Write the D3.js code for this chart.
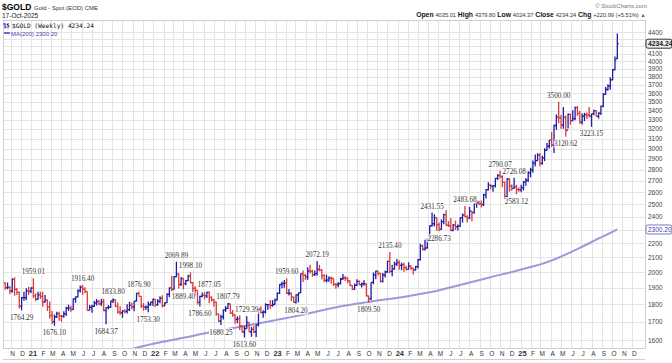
<!doctype html>
<head>
  <script src="https://cdnjs.cloudflare.com/ajax/libs/d3/7.8.5/d3.min.js"></script>
  <style>
    body { margin: 0; background: #fff; }
    svg { display: block; font-family: "Liberation Sans", Arial, sans-serif; }
  </style>
</head>
<body>
  <svg id="chart" width="672" height="363"></svg>
  <script type="text/javascript">
    // weekly bars [open, high, low, close], one row per Friday from 16-Oct-2020
    var ohlc2020 = [
      [1930,1933,1887,1900],[1900,1933,1890,1902],[1902,1911,1860,1879],[1879,1960,1869,1952],
      [1952,1966,1850,1889],[1889,1898,1855,1871],[1871,1875,1775,1788],[1788,1843,1764.29,1839],
      [1839,1875,1820,1839],[1839,1897,1825,1881],[1881,1906,1855,1877]
    ]
    var ohlc2021 = [
      [1877,1902,1867,1898],[1898,1959.01,1835,1850],[1850,1865,1817,1829],[1829,1875,1826,1856],[1856,1875,1831,1847],
      [1847,1875,1785,1813],[1813,1855,1808,1824],[1824,1827,1760,1784],[1784,1816,1717,1734],
      [1734,1760,1687,1700],[1700,1740,1676.10,1727],[1727,1755,1720,1745],[1745,1755,1705,1732],
      [1732,1737,1698,1729],[1729,1759,1721,1744],[1744,1784,1731,1777],[1777,1797,1760,1777],[1777,1790,1756,1769],
      [1769,1834,1765,1831],[1831,1845,1808,1844],[1844,1890,1840,1881],[1881,1913,1870,1904],
      [1904,1916.40,1856,1891],[1891,1903,1866,1877],[1877,1877,1761,1764],[1764,1795,1765,1781],
      [1781,1796,1750,1787],[1787,1818,1785,1808],[1808,1830,1792,1815],[1815,1824,1793,1802],[1802,1832,1790,1814],
      [1814,1832,1758,1763],[1763,1781,1684.37,1780],[1780,1795,1770,1781],[1781,1820,1778,1818],
      [1818,1833.80,1807,1827],[1827,1828,1782,1787],[1787,1809,1745,1754],[1754,1787,1737,1750],
      [1750,1765,1721,1761],[1761,1770,1746,1757],[1757,1800,1746,1768],[1768,1814,1760,1793],[1793,1810,1770,1783],
      [1783,1818,1758,1818],[1818,1868,1816,1865],[1865,1876.90,1846,1846],[1846,1848,1777,1788],
      [1788,1808,1762,1783],[1783,1792,1766,1783],[1783,1815,1753.30,1798],[1798,1814,1790,1811],[1811,1832,1789,1829]
    ]
    var ohlc2022 = [
      [1829,1830,1782,1797],[1797,1829,1790,1817],[1817,1848,1805,1835],[1835,1853,1780,1791],
      [1791,1810,1788,1808],[1808,1865,1807,1859],[1859,1902,1842,1898],[1898,1974,1878,1889],
      [1889,1974,1888,1970],[1970,2069.89,1965,1988],[1988,1990,1895,1921],[1921,1966,1910,1958],
      [1958,1960,1889.40,1925],[1925,1948,1915,1945],[1945,1982,1940,1974],[1974,1998.10,1929,1931],[1931,1936,1872,1896],
      [1896,1909,1850,1883],[1883,1884,1798,1811],[1811,1850,1786.60,1846],[1846,1870,1841,1853],
      [1853,1874,1828,1850],[1850,1875,1836,1871],[1871,1877.05,1805,1840],[1840,1847,1816,1827],
      [1827,1830,1785,1811],[1811,1814,1733,1742],[1742,1745,1697,1703],[1703,1739,1680.25,1727],[1727,1768,1711,1766],
      [1766,1788,1754,1775],[1775,1807.79,1773,1802],[1802,1803,1745,1747],[1747,1765,1727,1737],
      [1737,1740,1688,1712],[1712,1729,1691,1716],[1716,1735,1654,1675],[1675,1681,1639,1643],[1643,1676,1613.60,1661],
      [1661,1729.39,1660,1695],[1695,1698,1642,1644],[1644,1669,1617,1657],[1657,1675,1637,1644],
      [1644,1682,1616,1681],[1681,1774,1673,1771],[1771,1787,1747,1751],[1751,1764,1721,1754],
      [1754,1805,1745,1797],[1797,1800,1767,1797],[1797,1824,1773,1793],[1793,1824,1785,1798],[1798,1834,1797,1824]
    ]
    var ohlc2023 = [
      [1824,1870,1823,1865],[1865,1922,1861,1920],[1920,1937,1896,1926],[1926,1949,1900,1928],
      [1928,1959.60,1861,1865],[1865,1891,1852,1865],[1865,1870,1819,1842],[1842,1846,1809,1811],
      [1811,1858,1804.20,1856],[1856,1869,1810,1868],[1868,1990,1867,1989],[1989,2010,1935,1978],[1978,1988,1949,1969],
      [1969,2032,1950,2007],[2007,2048,1990,2004],[2004,2015,1969,1983],[1983,2010,1974,1990],
      [1990,2072.19,1978,2017],[2017,2048,2005,2011],[2011,2022,1951,1977],[1977,1985,1936,1946],
      [1946,1983,1932,1948],[1948,1971,1938,1961],[1961,1971,1925,1958],[1958,1959,1910,1921],[1921,1930,1893,1919],
      [1919,1935,1902,1925],[1925,1963,1920,1955],[1955,1987,1950,1962],[1962,1974,1942,1959],
      [1959,1966,1928,1943],[1943,1947,1911,1914],[1914,1916,1885,1889],[1889,1926,1888,1915],
      [1915,1953,1912,1940],[1940,1946,1915,1919],[1919,1933,1901,1924],[1924,1947,1912,1925],[1925,1926,1846,1849],
      [1849,1850,1809.50,1833],[1833,1933,1823,1933],[1933,1997,1922,1981],[1981,2009,1953,2006],
      [2006,2007,1978,1992],[1992,1993,1932,1940],[1940,1994,1932,1981],[1981,2008,1965,2002],
      [2002,2075,1994,2072],[2072,2135.40,1992,2004],[2004,2048,1973,2019],[2019,2070,2016,2053],[2053,2088,2040,2063]
    ]
    var ohlc2024 = [
      [2063,2079,2016,2045],[2045,2063,2013,2049],[2049,2062,2002,2029],[2029,2042,2010,2018],
      [2018,2065,2016,2039],[2039,2045,2015,2024],[2024,2031,1984,2013],[2013,2041,2010,2036],
      [2036,2088,2024,2083],[2083,2195,2078,2179],[2179,2188,2146,2155],[2155,2223,2146,2165],[2165,2236,2160,2230],
      [2230,2330,2228,2329],[2329,2431.55,2320,2344],[2344,2418,2324,2392],[2392,2394,2291,2337],
      [2337,2353,2286.73,2301],[2301,2378,2298,2360],[2360,2422,2340,2415],[2415,2450,2326,2334],[2334,2364,2320,2327],
      [2327,2388,2287,2293],[2293,2342,2286,2333],[2333,2368,2296,2321],[2321,2339,2293,2326],
      [2326,2392,2319,2392],[2392,2424,2353,2411],[2411,2483.68,2394,2400],[2400,2411,2353,2387],
      [2387,2477,2381,2443],[2443,2447,2364,2431],[2431,2509,2425,2507],[2507,2531,2470,2512],[2512,2528,2491,2503],
      [2503,2529,2472,2497],[2497,2586,2485,2577],[2577,2626,2546,2621],[2621,2686,2615,2658],
      [2658,2672,2625,2653],[2653,2659,2603,2657],[2657,2723,2640,2721],[2721,2758,2705,2747],
      [2747,2790.07,2720,2736],[2736,2750,2643,2685],[2685,2693,2540,2563],[2563,2721,2560,2715],[2715,2721,2605,2651],
      [2651,2666,2613,2633],[2633,2726.08,2630,2648],[2648,2664,2583.12,2623],[2623,2640,2603,2621]
    ]
    var ohlc2025 = [
      [2621,2665,2600,2640],[2640,2697,2615,2690],[2690,2725,2656,2703],[2703,2785,2689,2771],[2771,2817,2730,2798],
      [2798,2886,2772,2861],[2861,2942,2832,2883],[2883,2955,2880,2936],[2936,2956,2832,2858],
      [2858,2930,2845,2910],[2910,3004,2880,2984],[2984,3057,2982,3023],[3023,3087,3000,3084],
      [3084,3167,3015,3037],[3037,3245,2957,3237],[3237,3357,3193,3327],[3327,3500.00,3260,3319],
      [3319,3350,3202,3241],[3241,3438,3202,3325],[3325,3345,3120.62,3187],[3187,3366,3205,3357],[3357,3365,3245,3289],
      [3289,3403,3283,3310],[3310,3446,3293,3433],[3433,3452,3340,3368],[3368,3398,3255,3274],
      [3274,3366,3248,3337],[3337,3375,3283,3355],[3355,3377,3310,3350],[3350,3439,3324,3337],
      [3337,3365,3223.15,3363],[3363,3409,3348,3398],[3398,3404,3331,3336],[3336,3378,3311,3371],[3371,3453,3351,3448],
      [3448,3600,3436,3586],[3586,3674,3578,3643],[3643,3707,3628,3685],[3685,3791,3639,3760],
      [3760,3897,3756,3887],[3887,4059,3882,4013.25],[4035.01,4379.80,4024.37,4234.24]
    ]

    // MA(200)
    var maDates = ["2021-11-01","2022-01-01","2022-04-01","2022-07-01","2022-10-01","2023-01-01","2023-04-01",
      "2023-07-01","2023-10-01","2024-01-01","2024-04-01","2024-07-01","2024-10-01","2025-01-01","2025-04-01",
      "2025-07-01","2025-09-01","2025-10-01","2025-10-17"]
    var maValues = [1555,1580,1612,1645,1675,1708,1742,1782,1812,1838,1870,1915,1965,2015,2075,2170,2245,2280,2300.20]

    // labelled swing points: date, price, above/below
    var noteDates = ["2020-12-04","2021-01-08","2021-03-12","2021-06-04","2021-08-13","2021-09-03","2021-11-19",
      "2021-12-17","2022-03-11","2022-04-01","2022-04-22","2022-05-20","2022-06-17","2022-07-22","2022-08-12",
      "2022-09-30","2022-10-07","2023-02-03","2023-03-03","2023-05-05","2023-10-06","2023-12-08","2024-04-12",
      "2024-05-03","2024-07-19","2024-11-01","2024-12-13","2024-12-20","2025-04-25","2025-05-16","2025-08-01"]
    var noteValues = [1764.29,1959.01,1676.10,1916.40,1684.37,1833.80,1876.90,1753.30,2069.89,1889.40,1998.10,
      1786.60,1877.05,1680.25,1807.79,1613.60,1729.39,1959.60,1804.20,2072.19,1809.50,2135.40,2431.55,2286.73,
      2483.68,2790.07,2726.08,2583.12,3500.00,3120.62,3223.15]
    var noteSides = ["lo","hi","lo","hi","lo","hi","hi","lo","hi","lo","hi","lo","hi","lo","hi","lo","hi","hi",
      "lo","hi","lo","hi","hi","lo","hi","hi","hi","lo","hi","lo","lo"]

    var priceTicks = d3.range(1600, 4401, 100)

    function draw() {
      var bars = ohlc2020.concat(ohlc2021, ohlc2022, ohlc2023, ohlc2024, ohlc2025)
      var weeks = d3.timeFriday.range(new Date(2020, 9, 16), new Date(2025, 9, 18))

      var svg = d3.select("#chart")
      var pl = 3, pr = 645, pt = 20, pb = 348
      var x = d3.scaleTime().domain([new Date(2021, 0, 1), new Date(2025, 0, 1)]).range([31, 520.5])
      var y = d3.scaleLog().domain([1600, 4400]).range([340, 32])
      var parse = d3.timeParse("%Y-%m-%d")
      var last = bars[bars.length - 1]
      var lastMa = maValues[maValues.length - 1]

      svg.append("defs").append("clipPath").attr("id", "plotclip")
        .append("rect").attr("x", pl).attr("y", pt).attr("width", pr - pl).attr("height", pb - pt)

      // grid
      var months = d3.timeMonth.range(new Date(2020, 10, 1), new Date(2026, 0, 1))
      var grid = svg.append("g").attr("stroke", "#e4e4e4").attr("stroke-width", 1)
      grid.selectAll(".v").data(months).enter().append("line")
        .attr("x1", d => Math.round(x(d)) + 0.5).attr("x2", d => Math.round(x(d)) + 0.5)
        .attr("y1", pt).attr("y2", pb)
      grid.selectAll(".h").data(priceTicks).enter().append("line")
        .attr("x1", pl).attr("x2", pr)
        .attr("y1", d => Math.round(y(d)) + 0.5).attr("y2", d => Math.round(y(d)) + 0.5)
      svg.append("rect").attr("x", pl + 0.5).attr("y", pt + 0.5).attr("width", pr - pl).attr("height", pb - pt)
        .attr("fill", "none").attr("stroke", "#cfcfcf")

      var plot = svg.append("g").attr("clip-path", "url(#plotclip)")

      // MA(200)
      plot.append("path")
        .datum(maDates.map((d, i) => [parse(d), maValues[i]]))
        .attr("fill", "none").attr("stroke", "#9b99d9").attr("stroke-width", 2)
        .attr("d", d3.line().curve(d3.curveMonotoneX).x(d => x(d[0])).y(d => y(d[1])))

      // OHLC bars
      var barG = plot.selectAll(".bar").data(bars).enter().append("g")
        .attr("stroke", (d, i) => d[3] >= (i ? bars[i - 1][3] : d[0]) ? "#1d1da6" : "#d83a3a")
        .attr("stroke-width", 1.3)
      barG.append("line")
        .attr("x1", (d, i) => x(weeks[i])).attr("x2", (d, i) => x(weeks[i]))
        .attr("y1", d => y(d[1])).attr("y2", d => y(d[2]))
      barG.append("line")
        .attr("x1", (d, i) => x(weeks[i]) - 1.4).attr("x2", (d, i) => x(weeks[i]))
        .attr("y1", d => y(d[0])).attr("y2", d => y(d[0]))
      barG.append("line")
        .attr("x1", (d, i) => x(weeks[i])).attr("x2", (d, i) => x(weeks[i]) + 1.4)
        .attr("y1", d => y(d[3])).attr("y2", d => y(d[3]))

      // swing labels
      var notes = svg.selectAll(".note").data(noteValues).enter().append("g")
        .attr("transform", (d, i) => "translate(" + x(parse(noteDates[i])) + "," +
          (noteSides[i] == "hi" ? y(d) - 4 : y(d) + 9.5) + ")")
      notes.append("rect").attr("x", -12).attr("y", -6.5).attr("width", 24).attr("height", 8)
        .attr("fill", "#fff").attr("opacity", 0.85)
      notes.append("text").text(d => d.toFixed(2))
        .attr("text-anchor", "middle").attr("font-family", "Liberation Serif, serif")
        .attr("font-size", 7.2).attr("fill", "#333")

      // price axis (labels hidden under the value tags are left out)
      svg.selectAll(".pt").data(priceTicks.filter(d => Math.abs(y(d) - y(last[3])) > 5 && Math.abs(y(d) - y(lastMa)) > 5))
        .enter().append("text")
        .attr("x", 648).attr("y", d => y(d) + 2.5).text(d => d)
        .attr("font-size", 6.5).attr("fill", "#444")

      // month axis
      svg.selectAll(".mt").data(months).enter().append("text")
        .attr("x", d => x(d) + 2).attr("y", 356).attr("text-anchor", "middle")
        .attr("font-size", d => d.getMonth() == 0 ? 7.5 : 6.5)
        .attr("font-weight", d => d.getMonth() == 0 ? "bold" : "normal")
        .attr("fill", "#333")
        .text(d => d.getMonth() == 0 ? d3.timeFormat("%y")(d) : d3.timeFormat("%b")(d)[0])
      svg.append("line").attr("x1", pl).attr("x2", pr).attr("y1", 359.5).attr("y2", 359.5).attr("stroke", "#cfcfcf")

      // value tags
      var tag1 = svg.append("g").attr("transform", "translate(646," + y(last[3]) + ")")
      tag1.append("rect").attr("x", 0).attr("y", -4.5).attr("width", 26).attr("height", 9).attr("rx", 2)
        .attr("fill", "#eee").attr("stroke", "#333")
      tag1.append("text").attr("x", 2).attr("y", 2.5).attr("font-size", 6.8).attr("font-weight", "bold")
        .attr("fill", "#222").text(last[3].toFixed(2))
      var tag2 = svg.append("g").attr("transform", "translate(646," + y(lastMa) + ")")
      tag2.append("rect").attr("x", 0).attr("y", -4.5).attr("width", 26).attr("height", 9).attr("rx", 2)
        .attr("fill", "#fff").attr("stroke", "#7a78cc")
      tag2.append("text").attr("x", 2).attr("y", 2.5).attr("font-size", 6.5)
        .attr("fill", "#44429a").text(lastMa.toFixed(2))

      // header
      svg.append("text").attr("x", 2).attr("y", 10).attr("font-size", 8.5).attr("font-weight", "bold").text("$GOLD")
      svg.append("text").attr("x", 34).attr("y", 9.5).attr("font-size", 6).attr("fill", "#333").text("Gold - Spot (EOD) CME")
      svg.append("text").attr("x", 2).attr("y", 18).attr("font-size", 6.5).attr("fill", "#222").text("17-Oct-2025")
      svg.append("text").attr("x", 647).attr("y", 8).attr("text-anchor", "end").attr("font-size", 6)
        .attr("fill", "#777").text("© StockCharts.com")
      var quote = svg.append("text").attr("x", 646).attr("y", 17).attr("text-anchor", "end").attr("font-size", 5.7).attr("fill", "#333")
      var parts = [["Open ", last[0]], [" High ", last[1]], [" Low ", last[2]], [" Close ", last[3]]]
      parts.forEach(p => {
        quote.append("tspan").attr("font-weight", "bold").attr("font-size", 6.8).attr("fill", "#111").text(p[0])
        quote.append("tspan").text(p[1].toFixed(2))
      })
      quote.append("tspan").attr("font-weight", "bold").attr("font-size", 6.8).attr("fill", "#111").text(" Chg ")
      quote.append("tspan").text("+220.99 (+5.51%) ")
      quote.append("tspan").attr("fill", "#1a9a1a").text("▲")

      // legend
      var lg = svg.append("g")
      lg.append("path").attr("d", "M5,23 L5,28.5 M3.5,24 L5,24 M5,27 L6.5,27 M8,23 L8,28.5 M6.5,24.5 L8,24.5 M8,26 L9.5,26")
        .attr("stroke", "#1d1da6").attr("stroke-width", 1).attr("fill", "none")
      lg.append("text").attr("x", 12).attr("y", 28).attr("font-family", "DejaVu Sans Mono, monospace")
        .attr("font-size", 6.2).attr("fill", "#111").text("$GOLD (Weekly) 4234.24")
      lg.append("line").attr("x1", 4).attr("x2", 10).attr("y1", 33).attr("y2", 33).attr("stroke", "#6d6bcc").attr("stroke-width", 2)
      lg.append("text").attr("x", 11).attr("y", 35.5).attr("font-size", 6).attr("fill", "#4a48b0").text("MA(200) 2300.20")
    }

    draw()
  </script>
</body>
</html>
